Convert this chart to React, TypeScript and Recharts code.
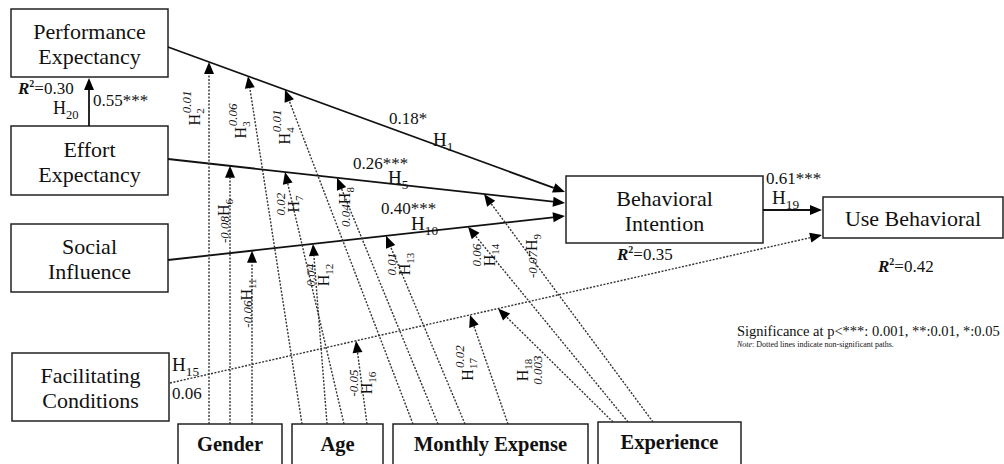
import React from 'react';
import { ScatterChart, Scatter, XAxis, YAxis, ReferenceArea, ReferenceLine, ReferenceDot } from 'recharts';

const FONT = '"Liberation Serif", "Times New Roman", serif';

// ---- model content ----
const constructs = ['Performance Expectancy', 'Effort Expectancy', 'Social Influence', 'Facilitating Conditions', 'Behavioral Intention', 'Use Behavioral'];
const constructLines = [['Performance', 'Expectancy'], ['Effort', 'Expectancy'], ['Social', 'Influence'], ['Facilitating', 'Conditions'], ['Behavioral', 'Intention'], ['Use Behavioral']];
const moderators = ['Gender', 'Age', 'Monthly Expense', 'Experience'];

// R squared for PE, BI, UB
const rSquared = ['0.30', '0.35', '0.42'];

// direct paths: H1, H5, H10, H15, H19, H20
const directHyp = ['H1', 'H5', 'H10', 'H15', 'H19', 'H20'];
const directCoef = ['0.18*', '0.26***', '0.40***', '0.06', '0.61***', '0.55***'];
const directSig = [true, true, true, false, true, true];

// moderating paths (all non significant)
const modHyp = ['H2', 'H3', 'H4', 'H6', 'H7', 'H8', 'H9', 'H11', 'H12', 'H13', 'H14', 'H16', 'H17', 'H18'];
const modCoef = ['0.01', '0.06', '0.01', '-0.08', '0.02', '0.04', '-0.07', '-0.06', '0.04', '0.01', '0.06', '-0.05', '0.02', '0.003'];
const modFrom = [0, 1, 2, 0, 1, 2, 3, 0, 1, 2, 3, 1, 2, 3]; // index in moderators
const modTarget = [0, 0, 0, 1, 1, 1, 1, 2, 2, 2, 2, 3, 3, 3]; // index in direct paths

const sigNote = 'Significance at p<***: 0.001, **:0.01, *:0.05';
const dottedNote = ': Dotted lines indicate non-significant paths.';

// ---- layout (diagram coordinates) ----
const constructBox = [[11, 168, 9, 77], [11, 168, 126, 195], [11, 168, 224, 292], [12, 169, 353, 421], [566, 763, 176, 243], [823, 1003, 197, 238]];
const moderatorBox = [[178, 282, 424, 470], [292, 383, 424, 470], [393, 588, 424, 470], [598, 741, 422, 470]];
const directPos = [[168, 47, 565, 192], [168, 159, 565, 203], [168, 260, 565, 216], [170, 383, 822, 235], [763, 210, 822, 210], [89, 126, 89, 78]];
const directCoefPos = [[389, 124], [353, 169], [381, 214], [172, 399], [766, 184], [93, 106]];
const directHypPos = [[433, 146], [388, 184], [411, 230], [172, 371], [772, 204], [53, 114]];
const modStartX = [209, 302, 413, 230, 344, 438, 653, 252, 327, 465, 628, 367, 508, 613];
const modTipX = [209, 248, 285, 230, 285, 337, 484, 252, 313, 386, 468, 356, 470, 498];
const modLabelPos = [[195, 108], [241, 121], [285, 127], [224, 221], [287, 204], [345, 207], [532, 256], [247, 303], [317, 275], [398, 264], [483, 255], [360, 383], [468, 363], [530, 370]];
const modLabelKind = ['sup', 'sup', 'sup', 'pre', 'stack', 'pre', 'pre', 'pre', 'stack', 'stack', 'stack', 'stack', 'sup', 'stackRev'];
const rSquaredPos = [[18, 94], [617, 260], [878, 272]];

const lineY = (p: number[], x: number) => p[1] + ((x - p[0]) * (p[3] - p[1])) / (p[2] - p[0]);

const ArrowShape = (props: any) => {
  const { x1, y1, x2, y2, dotted } = props;
  const dx = x2 - x1;
  const dy = y2 - y1;
  const len = Math.hypot(dx, dy) || 1;
  const ux = dx / len;
  const uy = dy / len;
  const L = 12;
  const hw = 5;
  const bx = x2 - ux * L;
  const by = y2 - uy * L;
  const pts = `${x2},${y2} ${bx - uy * hw},${by + ux * hw} ${bx + uy * hw},${by - ux * hw}`;
  return (
    <g>
      <line x1={x1} y1={y1} x2={bx} y2={by} stroke={dotted ? '#333' : '#111'} strokeWidth={dotted ? 1.4 : 1.8} strokeDasharray={dotted ? '2 1.5' : undefined} />
      <polygon points={pts} fill="#000" />
    </g>
  );
};

const Hyp = ({ x, y, h, size = 19 }: any) => (
  <text x={x} y={y} fontFamily={FONT} fontSize={size} fill="#111">
    H<tspan fontSize={size * 0.7} dy={size * 0.28}>{h.slice(1)}</tspan>
  </text>
);

const ModLabel = ({ cx, cy, h, v, kind }: any) => {
  const n = h.slice(1);
  let body;
  if (kind === 'sup') {
    body = (
      <text x={0} y={5} textAnchor="middle" fontFamily={FONT} fontSize={16} fill="#111">
        H<tspan fontSize={11} dy={4}>{n}</tspan>
        <tspan fontSize={13} fontStyle="italic" dy={-13} dx={-n.length * 5}>{v}</tspan>
      </text>
    );
  } else if (kind === 'pre') {
    body = (
      <text x={0} y={5} textAnchor="middle" fontFamily={FONT} fontSize={16} fill="#111">
        <tspan fontSize={13} fontStyle="italic">{v}</tspan>H<tspan fontSize={11} dy={4}>{n}</tspan>
      </text>
    );
  } else {
    const vy = kind === 'stack' ? -2 : 12;
    const hy = kind === 'stack' ? 12 : -2;
    body = (
      <g fontFamily={FONT} fill="#111">
        <text x={0} y={vy} textAnchor="middle" fontSize={13} fontStyle="italic">{v}</text>
        <text x={0} y={hy} textAnchor="middle" fontSize={16}>
          H<tspan fontSize={11} dy={4}>{n}</tspan>
        </text>
      </g>
    );
  }
  return <g transform={`translate(${cx},${cy}) rotate(-90)`}>{body}</g>;
};

const RSq = ({ x, y, v }: any) => (
  <text x={x} y={y} fontFamily={FONT} fontSize={17} fill="#111">
    <tspan fontWeight="bold" fontStyle="italic">R</tspan>
    <tspan fontSize={10} dy={-7} fontWeight="bold">2</tspan>
    <tspan dy={7}>={v}</tspan>
  </text>
);

export default function App() {
  return (
    <div style={{ position: 'absolute', left: 0, top: 0, width: 1004, height: 464, background: '#fff' }}>
      <ScatterChart width={1004} height={464} margin={{ top: 0, right: 0, bottom: 0, left: 0 }}>
        <XAxis type="number" dataKey="x" domain={[0, 1004]} hide allowDataOverflow />
        <YAxis type="number" dataKey="y" domain={[0, 464]} reversed hide allowDataOverflow />
        <Scatter data={[]} isAnimationActive={false} />

        {constructs.map((c, i) => {
          const b = constructBox[i];
          return (
            <ReferenceArea key={c} x1={b[0]} x2={b[1]} y1={b[2]} y2={b[3]} fill="#fff" fillOpacity={1} stroke="#222" strokeWidth={1.5} ifOverflow="visible" />
          );
        })}
        {moderators.map((m, i) => {
          const b = moderatorBox[i];
          return (
            <ReferenceArea key={m} x1={b[0]} x2={b[1]} y1={b[2]} y2={b[3]} fill="#fff" fillOpacity={1} stroke="#222" strokeWidth={1.5} ifOverflow="visible" />
          );
        })}

        {directHyp.map((h, i) => {
          const p = directPos[i];
          return (
            <ReferenceLine
              key={h}
              segment={[{ x: p[0], y: p[1] }, { x: p[2], y: p[3] }]}
              ifOverflow="visible"
              shape={(sp: any) => <ArrowShape {...sp} dotted={!directSig[i]} />}
            />
          );
        })}

        {modHyp.map((h, i) => {
          const target = directPos[modTarget[i]];
          const sy = moderatorBox[modFrom[i]][2];
          const tx = modTipX[i];
          const ty = lineY(target, tx);
          return (
            <ReferenceLine
              key={h}
              segment={[{ x: modStartX[i], y: sy }, { x: tx, y: ty }]}
              ifOverflow="visible"
              shape={(sp: any) => <ArrowShape {...sp} dotted />}
            />
          );
        })}

        {constructs.map((c, i) => {
          const b = constructBox[i];
          const cx = (b[0] + b[1]) / 2;
          const cy = (b[2] + b[3]) / 2;
          const lines = constructLines[i];
          return (
            <ReferenceDot
              key={`t-${c}`}
              x={cx}
              y={cy}
              r={0}
              ifOverflow="visible"
              shape={(sp: any) => (
                <text textAnchor="middle" fontFamily={FONT} fontSize={22} fill="#111">
                  {lines.length === 1 ? (
                    <tspan x={sp.cx} y={sp.cy + 8}>{lines[0]}</tspan>
                  ) : (
                    lines.map((l, k) => (
                      <tspan key={l} x={sp.cx} y={sp.cy - 4 + k * 25}>{l}</tspan>
                    ))
                  )}
                </text>
              )}
            />
          );
        })}
        {moderators.map((m, i) => {
          const b = moderatorBox[i];
          return (
            <ReferenceDot
              key={`t-${m}`}
              x={(b[0] + b[1]) / 2}
              y={b[2] + 27}
              r={0}
              ifOverflow="visible"
              shape={(sp: any) => (
                <text x={sp.cx} y={sp.cy} textAnchor="middle" fontFamily={FONT} fontSize={20.5} fontWeight="bold" fill="#111">{m}</text>
              )}
            />
          );
        })}

        {directHyp.map((h, i) => (
          <ReferenceDot
            key={`c-${h}`}
            x={directCoefPos[i][0]}
            y={directCoefPos[i][1]}
            r={0}
            ifOverflow="visible"
            shape={(sp: any) => (
              <g>
                <text x={sp.cx} y={sp.cy} fontFamily={FONT} fontSize={17} fill="#111">{directCoef[i]}</text>
                <Hyp x={directHypPos[i][0]} y={directHypPos[i][1]} h={h} size={h === 'H20' ? 18 : 19} />
              </g>
            )}
          />
        ))}

        {modHyp.map((h, i) => (
          <ReferenceDot
            key={`m-${h}`}
            x={modLabelPos[i][0]}
            y={modLabelPos[i][1]}
            r={0}
            ifOverflow="visible"
            shape={(sp: any) => <ModLabel cx={sp.cx} cy={sp.cy} h={h} v={modCoef[i]} kind={modLabelKind[i]} />}
          />
        ))}

        {rSquared.map((v, i) => (
          <ReferenceDot
            key={`r-${i}`}
            x={rSquaredPos[i][0]}
            y={rSquaredPos[i][1]}
            r={0}
            ifOverflow="visible"
            shape={(sp: any) => <RSq x={sp.cx} y={sp.cy} v={v} />}
          />
        ))}

        <ReferenceDot
          x={737}
          y={336}
          r={0}
          ifOverflow="visible"
          shape={(sp: any) => (
            <g fontFamily={FONT} fill="#111">
              <text x={sp.cx} y={sp.cy} fontSize={14.5}>{sigNote}</text>
              <text x={sp.cx} y={sp.cy + 11} fontSize={8}>
                <tspan fontStyle="italic">Note</tspan>{dottedNote}
              </text>
            </g>
          )}
        />
      </ScatterChart>
    </div>
  );
}
